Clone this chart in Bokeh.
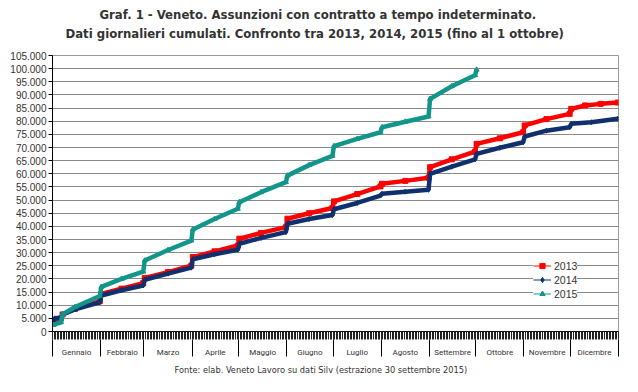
from bokeh.plotting import figure
from bokeh.models import (Range1d, FixedTicker, LinearAxis, Legend, LegendItem,
                          Title, ColumnDataSource, CustomJSTickFormatter)
from bokeh.embed import file_html
from bokeh.resources import INLINE

TITLE_1 = "Graf. 1 - Veneto. Assunzioni con contratto a tempo indeterminato."
TITLE_2 = "Dati giornalieri cumulati. Confronto tra 2013, 2014, 2015 (fino al 1 ottobre)"
SOURCE = "Fonte: elab. Veneto Lavoro su dati Silv (estrazione 30 settembre 2015)"

months = ["Gennaio", "Febbraio", "Marzo", "Aprile", "Maggio", "Giugno",
          "Luglio", "Agosto", "Settembre", "Ottobre", "Novembre", "Dicembre"]
month_lengths = [31, 28, 31, 30, 31, 30, 31, 31, 30, 31, 30, 31]
y_ticks = list(range(0, 105001, 5000))

# day of year (1-based) and cumulative hirings
days_2013 = [1, 2, 6, 7, 15, 31, 32, 45, 59, 60, 75, 90, 91, 105, 120, 121, 135, 151,
             152, 166, 181, 182, 197, 212, 213, 228, 243, 244, 258, 273, 274, 289, 304,
             305, 319, 334, 335, 344, 354, 365]
vals_2013 = [3000, 4500, 5000, 6500, 8600, 11500, 14300, 16300, 18400, 20400, 22600, 25000,
             28300, 30500, 32700, 35300, 37500, 39700, 42900, 45000, 47000, 49500, 52300,
             55200, 56200, 57300, 58500, 62500, 65500, 68400, 71400, 73500, 75800, 78400,
             80800, 82800, 84700, 86000, 86600, 87100]

days_2014 = [1, 2, 6, 7, 15, 31, 32, 45, 59, 60, 75, 90, 91, 105, 120, 121, 135, 151,
             152, 166, 181, 182, 197, 212, 213, 228, 243, 244, 258, 273, 274, 289, 304,
             305, 319, 334, 335, 348, 365]
vals_2014 = [3000, 5000, 5200, 6500, 8400, 11100, 13700, 15700, 17500, 19700, 22000, 24300,
             27500, 29400, 31100, 33400, 35600, 37800, 41000, 42800, 44300, 46500, 48900,
             51700, 52400, 53200, 53900, 60000, 62700, 65500, 67600, 69900, 72000, 74200,
             76400, 77700, 79000, 79600, 80900]

days_2015 = [1, 6, 7, 15, 31, 32, 45, 59, 60, 75, 90, 91, 105, 120, 121, 135, 151,
             152, 166, 181, 182, 197, 212, 213, 228, 243, 244, 258, 273, 274]
vals_2015 = [2500, 3500, 6500, 9300, 13500, 17000, 20000, 22800, 27000, 31000, 34600,
             38800, 42800, 46700, 49200, 53000, 56800, 59300, 63300, 66800, 70500, 73300,
             75800, 77700, 79800, 81800, 88500, 93300, 97500, 99600]

series = [
    ("2013", days_2013, vals_2013, "#ff0000", "square"),
    ("2014", days_2014, vals_2014, "#10306e", "diamond"),
    ("2015", days_2015, vals_2015, "#12968b", "triangle"),
]

COND = "DejaVu Sans Condensed"
ROBO = "Roboto"
SANS = "Liberation Sans"
TXT = "#333333"

p = figure(width=622, height=376, output_backend="svg", toolbar_location=None,
           x_range=Range1d(0, 365), y_range=Range1d(0, 105000),
           min_border_left=52, min_border_right=4, min_border_top=0, min_border_bottom=0,
           background_fill_color="white", border_fill_color="white")
p.outline_line_color = "#999999"
p.xgrid.visible = False
p.ygrid.ticker = FixedTicker(ticks=y_ticks)
p.ygrid.grid_line_color = "#8a8a8a"
p.ygrid.grid_line_width = 1

# y axis
ya = p.yaxis[0]
ya.ticker = FixedTicker(ticks=y_ticks)
ya.major_label_overrides = {t: f"{t:,}".replace(",", ".") for t in y_ticks}
ya.major_label_text_font = SANS
ya.major_label_text_font_size = "10px"
ya.major_label_text_color = TXT
ya.major_tick_out = 4
ya.major_tick_in = 0
ya.minor_tick_out = 0
ya.minor_tick_in = 0
ya.major_label_standoff = 2
ya.axis_line_color = "black"
ya.major_tick_line_color = "black"

# x axis: daily ticks
xa = p.xaxis[0]
xa.ticker = FixedTicker(ticks=list(range(0, 366)))
xa.formatter = CustomJSTickFormatter(code="return ''")
xa.major_label_text_font_size = "1px"
xa.major_label_standoff = 0
xa.major_tick_out = 8
xa.major_tick_in = 0
xa.minor_tick_out = 0
xa.minor_tick_in = 0
xa.axis_line_color = "black"
xa.major_tick_line_color = "#222222"

# month axis
bounds = [0]
for n in month_lengths:
    bounds.append(bounds[-1] + n)
mids = [(bounds[i] + bounds[i + 1]) / 2 for i in range(12)]
ma = LinearAxis(ticker=FixedTicker(ticks=mids, minor_ticks=bounds),
                major_label_overrides={m: name for m, name in zip(mids, months)})
ma.major_tick_out = 0
ma.major_tick_in = 0
ma.minor_tick_out = 17
ma.minor_tick_in = 0
ma.minor_tick_line_color = "black"
ma.axis_line_color = None
ma.major_label_standoff = -9
ma.major_label_text_font = ROBO
ma.major_label_text_font_size = "8px"
ma.major_label_text_color = TXT
p.add_layout(ma, "below")

p.add_layout(Title(text=SOURCE, align="left", offset=122, vertical_align="bottom",
                   standoff=4, text_font=COND, text_font_size="9.2px",
                   text_font_style="normal", text_color=TXT), "below")

# titles: spacer (closest to frame), line 2, line 1
p.add_layout(Title(text=" ", text_font_size="4px", standoff=6), "above")
p.add_layout(Title(text=TITLE_2, align="left", offset=13, vertical_align="top",
                   standoff=0, text_font=COND, text_font_size="13px",
                   text_font_style="bold", text_color=TXT), "above")
p.add_layout(Title(text=TITLE_1, align="left", offset=47, vertical_align="bottom",
                   standoff=8, text_font=COND, text_font_size="13px",
                   text_font_style="bold", text_color=TXT), "above")

items = []
for name, days, vals, color, marker in series:
    src = ColumnDataSource(dict(x=[d - 0.5 for d in days], y=vals))
    p.line("x", "y", source=src, line_color=color, line_width=4.5)
    thin = p.line("x", "y", source=src, line_color=color, line_width=1)
    sc = p.scatter("x", "y", source=src, marker=marker, size=5, fill_color=color,
                   line_color=color)
    items.append(LegendItem(label=name, renderers=[thin, sc]))

legend = Legend(items=items, location=(481, 31), padding=6, spacing=1, margin=0,
                glyph_width=18, glyph_height=13, label_height=13, label_standoff=3,
                label_text_font=SANS, label_text_font_size="10.5px",
                label_text_color=TXT, border_line_color=None,
                background_fill_color="white", background_fill_alpha=1)
p.add_layout(legend)

open("out.html", "w").write(file_html(p, INLINE))
